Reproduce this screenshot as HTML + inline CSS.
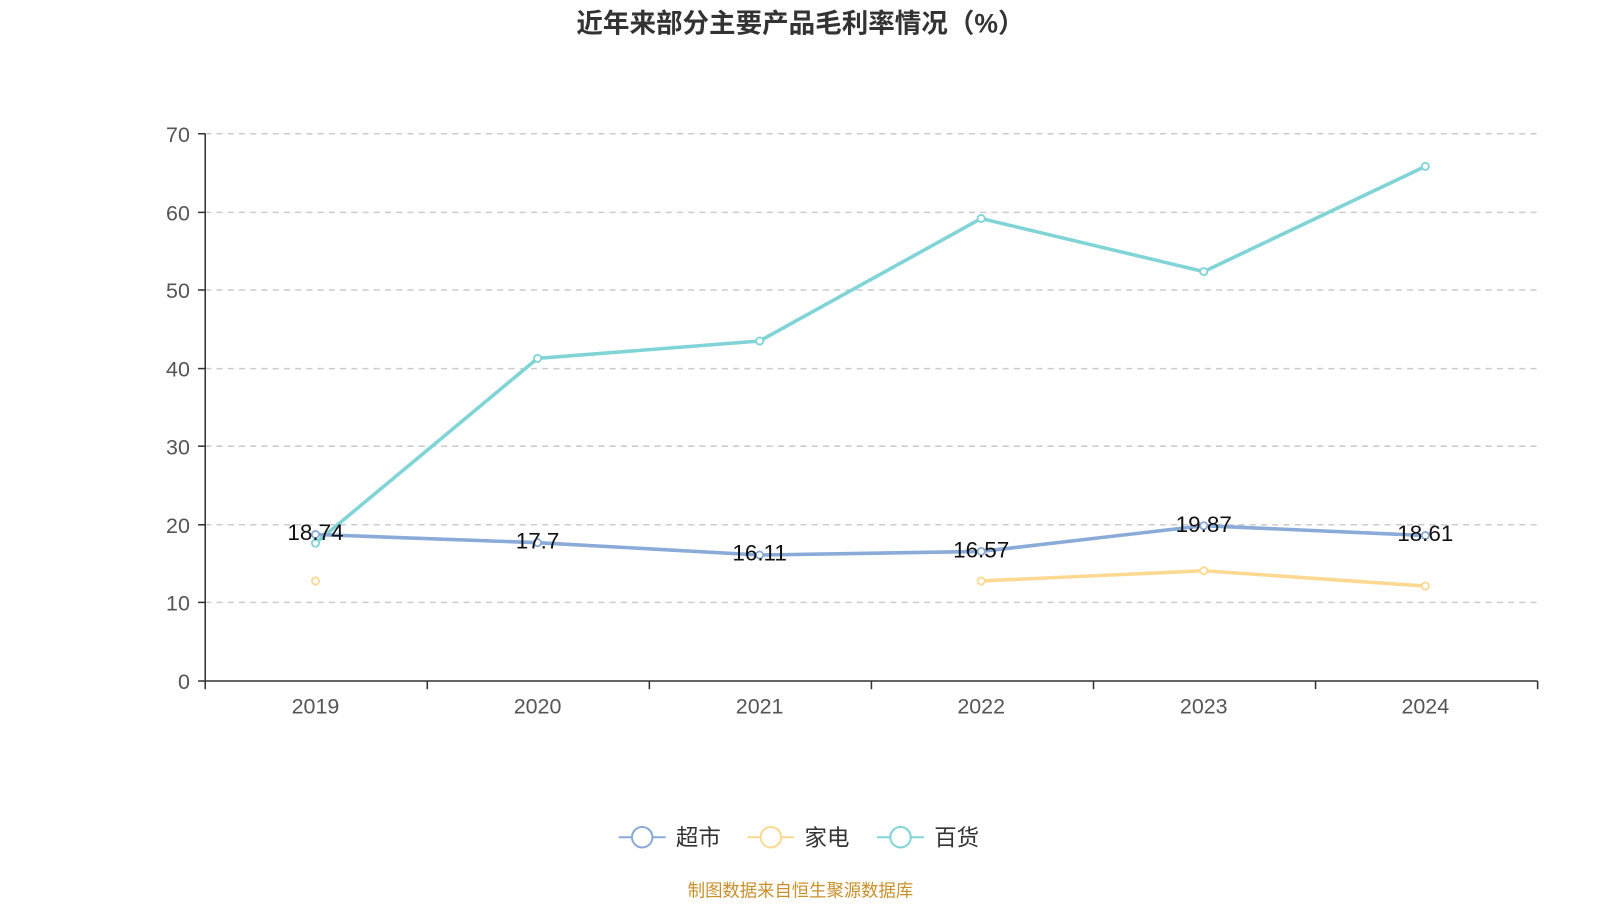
<!DOCTYPE html>
<html><head><meta charset="utf-8"><style>
body{margin:0;background:#fff;}
svg text{font-family:"Liberation Sans","Noto Sans CJK SC",sans-serif;}
</style></head><body>
<svg width="1600" height="900" viewBox="0 0 1600 900" xmlns="http://www.w3.org/2000/svg">
<rect width="1600" height="900" fill="#fff"/>
<g transform="scale(1.021)">
<text x="784" y="32" text-anchor="middle" font-size="26" font-weight="bold" fill="#333">近年来部分主要产品毛利率情况（%）</text>
<g stroke="#ccc" stroke-width="1.5" stroke-dasharray="6,5">
<line x1="201" y1="131" x2="1506" y2="131"/>
<line x1="201" y1="208" x2="1506" y2="208"/>
<line x1="201" y1="284" x2="1506" y2="284"/>
<line x1="201" y1="361" x2="1506" y2="361"/>
<line x1="201" y1="437" x2="1506" y2="437"/>
<line x1="201" y1="514" x2="1506" y2="514"/>
<line x1="201" y1="590" x2="1506" y2="590"/>
</g>
<g stroke="#333" stroke-width="1.5">
<line x1="201" y1="131" x2="201" y2="667"/>
<line x1="201" y1="667" x2="1506" y2="667"/>
<line x1="194" y1="131" x2="201" y2="131"/><line x1="194" y1="208" x2="201" y2="208"/><line x1="194" y1="284" x2="201" y2="284"/><line x1="194" y1="361" x2="201" y2="361"/><line x1="194" y1="437" x2="201" y2="437"/><line x1="194" y1="514" x2="201" y2="514"/><line x1="194" y1="590" x2="201" y2="590"/><line x1="194" y1="667" x2="201" y2="667"/>
<line x1="201" y1="667" x2="201" y2="675"/><line x1="418.5" y1="667" x2="418.5" y2="675"/><line x1="636" y1="667" x2="636" y2="675"/><line x1="853.5" y1="667" x2="853.5" y2="675"/><line x1="1071" y1="667" x2="1071" y2="675"/><line x1="1288.5" y1="667" x2="1288.5" y2="675"/><line x1="1506" y1="667" x2="1506" y2="675"/>
</g>
<g font-size="21" fill="#555" text-anchor="end">
<text x="186" y="139">70</text><text x="186" y="216">60</text><text x="186" y="292">50</text><text x="186" y="369">40</text><text x="186" y="445">30</text><text x="186" y="522">20</text><text x="186" y="598">10</text><text x="186" y="675">0</text>
</g>
<g font-size="21" fill="#555" text-anchor="middle">
<text x="309" y="699">2019</text><text x="526.5" y="699">2020</text><text x="744" y="699">2021</text><text x="961" y="699">2022</text><text x="1179" y="699">2023</text><text x="1396" y="699">2024</text>
</g>
<polyline fill="none" stroke="#80d4d6" stroke-width="3.5" points="309,532 526.5,351 744,334 961,214 1179,266 1396,163"/>
<polyline fill="none" stroke="#8aaad8" stroke-width="3.5" points="309,523.5 526.5,531.5 744,543.6 961,540.1 1179,514.9 1396,524.5"/>
<polyline fill="none" stroke="#fdd891" stroke-width="3.5" points="961,569 1179,559 1396,574"/>
<g fill="#fff" stroke-width="1.8">
<g stroke="#8aaad8"><circle cx="309" cy="523.5" r="3.5"/><circle cx="526.5" cy="531.5" r="3.5"/><circle cx="744" cy="543.6" r="3.5"/><circle cx="961" cy="540.1" r="3.5"/><circle cx="1179" cy="514.9" r="3.5"/><circle cx="1396" cy="524.5" r="3.5"/></g>
<g stroke="#fdd891"><circle cx="309" cy="569" r="3.5"/><circle cx="961" cy="569" r="3.5"/><circle cx="1179" cy="559" r="3.5"/><circle cx="1396" cy="574" r="3.5"/></g>
<g stroke="#80d4d6"><circle cx="309" cy="532" r="3.5"/><circle cx="526.5" cy="351" r="3.5"/><circle cx="744" cy="334" r="3.5"/><circle cx="961" cy="214" r="3.5"/><circle cx="1179" cy="266" r="3.5"/><circle cx="1396" cy="163" r="3.5"/></g>
</g>
<g font-size="22" fill="#111" text-anchor="middle">
<text x="309" y="529">18.74</text><text x="526.5" y="537">17.7</text><text x="744" y="549">16.11</text><text x="961" y="546">16.57</text><text x="1179" y="521">19.87</text><text x="1396" y="530">18.61</text>
</g>
<g stroke-width="2" fill="#fff">
<line x1="606" y1="820" x2="652" y2="820" stroke="#8aaad8"/><circle cx="629" cy="820" r="10" stroke="#8aaad8"/>
<line x1="732" y1="820" x2="778" y2="820" stroke="#fdd891"/><circle cx="755" cy="820" r="10" stroke="#fdd891"/>
<line x1="859" y1="820" x2="905" y2="820" stroke="#80d4d6"/><circle cx="882" cy="820" r="10" stroke="#80d4d6"/>
</g>
<g font-size="22" fill="#333">
<text x="662" y="828">超市</text><text x="788" y="828">家电</text><text x="915" y="828">百货</text>
</g>
<text x="784" y="878" text-anchor="middle" font-size="17" fill="#c8902a">制图数据来自恒生聚源数据库</text>
</g>
</svg>
</body></html>
